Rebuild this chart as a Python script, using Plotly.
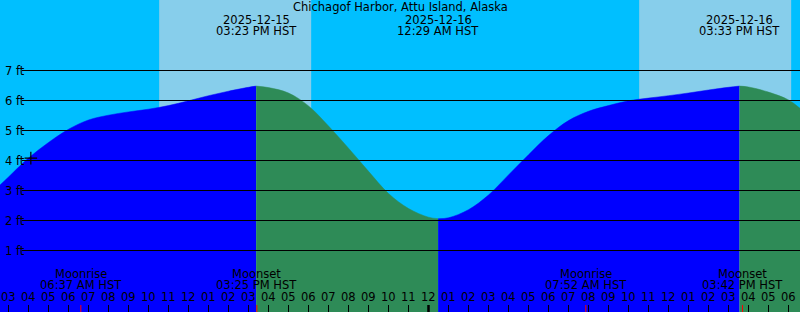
import plotly.graph_objects as go
import pandas as pd

# ---------------- data ----------------
title_text = "Chichagof Harbor, Attu Island, Alaska"

tide_times = [
    "2025-12-15 02:34:30", "2025-12-15 03:00", "2025-12-15 04:00", "2025-12-15 05:00",
    "2025-12-15 06:00", "2025-12-15 07:00", "2025-12-15 08:00", "2025-12-15 09:00",
    "2025-12-15 10:00", "2025-12-15 11:00", "2025-12-15 12:00", "2025-12-15 13:00",
    "2025-12-15 14:00", "2025-12-15 15:00", "2025-12-15 16:00", "2025-12-15 17:00",
    "2025-12-15 18:00", "2025-12-15 19:00", "2025-12-15 20:00", "2025-12-15 21:00",
    "2025-12-15 22:00", "2025-12-15 23:00", "2025-12-16 00:00", "2025-12-16 01:00",
    "2025-12-16 02:00", "2025-12-16 03:00", "2025-12-16 04:00", "2025-12-16 05:00",
    "2025-12-16 06:00", "2025-12-16 07:00", "2025-12-16 08:00", "2025-12-16 09:00",
    "2025-12-16 10:00", "2025-12-16 11:00", "2025-12-16 12:00", "2025-12-16 13:00",
    "2025-12-16 14:00", "2025-12-16 15:00", "2025-12-16 16:00", "2025-12-16 17:00",
    "2025-12-16 18:00", "2025-12-16 18:34:30",
]
tide_ft = [
    3.18, 3.45, 4.08, 4.60,
    5.04, 5.35, 5.51, 5.62,
    5.71, 5.83, 5.99, 6.16,
    6.31, 6.44, 6.43, 6.25,
    5.82, 5.15, 4.41, 3.64,
    2.90, 2.40, 2.11, 2.09,
    2.36, 2.85, 3.52, 4.19,
    4.83, 5.33, 5.64, 5.83,
    5.99, 6.08, 6.16, 6.25,
    6.35, 6.44, 6.45, 6.28,
    6.02, 5.74,
]

extreme_times = ["2025-12-15 15:23", "2025-12-16 00:29", "2025-12-16 15:33"]
extreme_ft = [6.48, 2.06, 6.48]
extreme_dates = ["2025-12-15", "2025-12-16", "2025-12-16"]
extreme_clock = ["03:23 PM HST", "12:29 AM HST", "03:33 PM HST"]

moon_times = ["2025-12-15 06:37", "2025-12-15 15:25", "2025-12-16 07:52", "2025-12-16 15:42"]
moon_events = ["Moonrise", "Moonset", "Moonrise", "Moonset"]
moon_clock = ["06:37 AM HST", "03:25 PM HST", "07:52 AM HST", "03:42 PM HST"]

daylight_start = ["2025-12-15 10:32", "2025-12-16 10:32"]
daylight_end = ["2025-12-15 18:08", "2025-12-16 18:08"]

midnight = ["2025-12-16 00:00"]

now_time = ["2025-12-15 04:07"]
now_ft = [4.08]

y_levels = [1, 2, 3, 4, 5, 6, 7]
y_labels = ["1 ft", "2 ft", "3 ft", "4 ft", "5 ft", "6 ft", "7 ft"]

x_start = "2025-12-15 02:34:30"
x_end = "2025-12-16 18:34:30"
y_range = [-1.05, 9.35]

# ---------------- styles ----------------
W, H = 800, 312
FONT = "DejaVu Sans"
FS = 11.5
SKY = "#00BFFF"
DAY = "#87CEEB"
RISE = "#0000FF"
FALL = "#2E8B57"


def ypaper(px):
    return 1 - px / H


# merge tide samples with extremes, split into rising / falling segments
pts = sorted(
    [(pd.Timestamp(t), v) for t, v in zip(tide_times, tide_ft)]
    + [(pd.Timestamp(t), v) for t, v in zip(extreme_times, extreme_ft)]
)
ext_ts = [pd.Timestamp(t) for t in extreme_times]
bounds = [pd.Timestamp(x_start)] + ext_ts + [pd.Timestamp(x_end)]

fig = go.Figure()

for i in range(len(bounds) - 1):
    a, b = bounds[i], bounds[i + 1]
    seg = [(t, v) for t, v in pts if a <= t <= b]
    xs = [t for t, _ in seg]
    ys = [v for _, v in seg]
    color = RISE if ys[-1] > ys[0] else FALL
    fig.add_trace(go.Scatter(x=[a, b], y=[y_range[0] - 1] * 2, mode="lines",
                             line=dict(width=0), hoverinfo="skip", showlegend=False))
    fig.add_trace(go.Scatter(x=xs, y=ys, mode="lines", fill="tonexty",
                             fillcolor=color, line=dict(color=color, width=0.5, shape="spline"),
                             hoverinfo="skip", showlegend=False))

# current position marker
fig.add_trace(go.Scatter(x=now_time, y=now_ft, mode="markers",
                         marker=dict(symbol="cross-thin", size=9,
                                     line=dict(color="black", width=1.2)),
                         hoverinfo="skip", showlegend=False))

shapes = []
# daylight bands
for s, e in zip(daylight_start, daylight_end):
    shapes.append(dict(type="rect", xref="x", yref="paper", x0=s, x1=e, y0=0, y1=1,
                       fillcolor=DAY, line=dict(width=0), layer="below"))
# horizontal level lines
for lv in y_levels:
    shapes.append(dict(type="line", xref="paper", yref="y", x0=22 / W, x1=1, y0=lv, y1=lv,
                       line=dict(color="black", width=1)))

# hour ticks
hours = pd.date_range("2025-12-15 03:00", "2025-12-16 18:00", freq="1h")
for h in hours:
    shapes.append(dict(type="line", xref="x", yref="paper", x0=h, x1=h,
                       y0=0, y1=7 / H, line=dict(color="black", width=1)))
for m in midnight:
    shapes.append(dict(type="line", xref="x", yref="paper", x0=m, x1=m,
                       y0=0, y1=7 / H, line=dict(color="black", width=2.5)))
for m in moon_times:
    shapes.append(dict(type="line", xref="x", yref="paper", x0=m, x1=m,
                       y0=0, y1=7 / H, line=dict(color="red", width=1)))

annotations = []


def ann(x, y, text, xref="x", xanchor="center"):
    annotations.append(dict(x=x, y=y, xref=xref, yref="paper", text=text, showarrow=False,
                            xanchor=xanchor, yanchor="middle",
                            font=dict(family=FONT, size=FS, color="black")))


ann(0.5, ypaper(7.3), title_text, xref="paper")
for t, d, c in zip(extreme_times, extreme_dates, extreme_clock):
    ann(t, ypaper(19.6), d)
    ann(t, ypaper(31.3), c)
for t, ev, c in zip(moon_times, moon_events, moon_clock):
    ann(t, ypaper(273.6), ev)
    ann(t, ypaper(285.0), c)
for h in hours:
    ann(h, ypaper(296.6), h.strftime("%I"))
for lv, lab in zip(y_levels, y_labels):
    annotations.append(dict(x=2.5 / W, y=lv, xref="paper", yref="y", text=lab, showarrow=False,
                            xanchor="left", yanchor="middle",
                            font=dict(family=FONT, size=FS, color="black")))

fig.update_layout(
    width=W, height=H,
    margin=dict(l=0, r=0, t=0, b=0),
    paper_bgcolor=SKY, plot_bgcolor=SKY,
    shapes=shapes, annotations=annotations,
    xaxis=dict(type="date", range=[x_start, x_end], visible=False, fixedrange=True),
    yaxis=dict(range=y_range, visible=False, fixedrange=True),
    showlegend=False,
)

fig.write_html("out.html", config={"displayModeBar": False})
